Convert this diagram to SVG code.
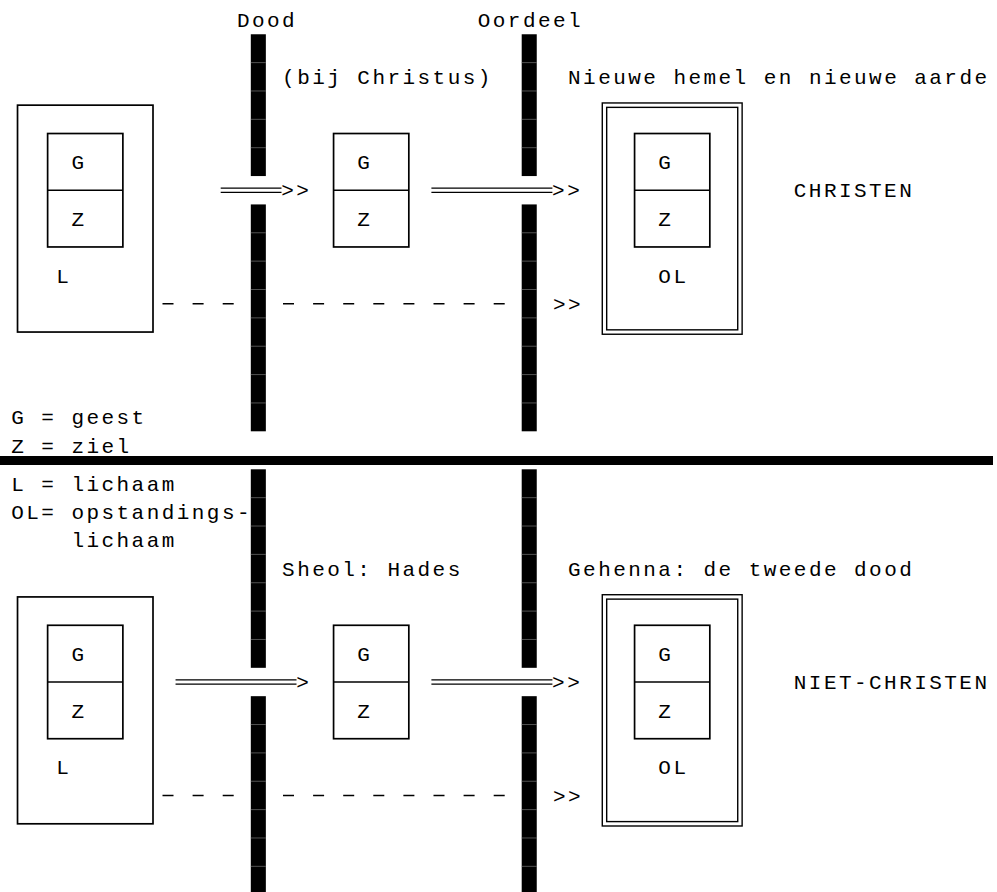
<svg xmlns="http://www.w3.org/2000/svg" width="997" height="892" viewBox="0 0 997 892">
<style>
.t{font-family:"Liberation Mono","DejaVu Sans Mono",monospace;font-size:21px;letter-spacing:2.45px;fill:#000}
.box{fill:none;stroke:#000;stroke-width:1.7}
.dbl{fill:none;stroke:#000;stroke-width:1.4}
.bar{fill:#000}
.sep{fill:none;stroke:#8a8a8a;stroke-width:0.6}
.dash{fill:none;stroke:#000;stroke-width:1.5;stroke-dasharray:11 19.1}
</style>
<rect width="997" height="892" fill="#fff"/>

<!-- barriers -->
<g id="bar-dood">
<rect class="bar" x="250.8" y="34.26" width="15.05" height="141.8"/>
<rect class="bar" x="250.8" y="204.42" width="15.05" height="226.88"/>
<rect class="bar" x="250.8" y="469.3" width="15.05" height="198.52"/>
<rect class="bar" x="250.8" y="696.18" width="15.05" height="195.82"/>
<path class="sep" d="M250.8 62.62h15.05M250.8 90.98h15.05M250.8 119.34h15.05M250.8 147.7h15.05M250.8 232.78h15.05M250.8 261.14h15.05M250.8 289.5h15.05M250.8 317.86h15.05M250.8 346.22h15.05M250.8 374.58h15.05M250.8 402.94h15.05M250.8 497.66h15.05M250.8 526.02h15.05M250.8 554.38h15.05M250.8 582.74h15.05M250.8 611.1h15.05M250.8 639.46h15.05M250.8 724.54h15.05M250.8 752.9h15.05M250.8 781.26h15.05M250.8 809.62h15.05M250.8 837.98h15.05M250.8 866.34h15.05"/>
</g>
<g id="bar-oordeel">
<rect class="bar" x="521.7" y="34.26" width="15.05" height="141.8"/>
<rect class="bar" x="521.7" y="204.42" width="15.05" height="226.88"/>
<rect class="bar" x="521.7" y="469.3" width="15.05" height="198.52"/>
<rect class="bar" x="521.7" y="696.18" width="15.05" height="195.82"/>
<path class="sep" d="M521.7 62.62h15.05M521.7 90.98h15.05M521.7 119.34h15.05M521.7 147.7h15.05M521.7 232.78h15.05M521.7 261.14h15.05M521.7 289.5h15.05M521.7 317.86h15.05M521.7 346.22h15.05M521.7 374.58h15.05M521.7 402.94h15.05M521.7 497.66h15.05M521.7 526.02h15.05M521.7 554.38h15.05M521.7 582.74h15.05M521.7 611.1h15.05M521.7 639.46h15.05M521.7 724.54h15.05M521.7 752.9h15.05M521.7 781.26h15.05M521.7 809.62h15.05M521.7 837.98h15.05M521.7 866.34h15.05"/>
</g>

<!-- divider -->
<rect id="divider" x="0" y="456" width="993" height="9" fill="#000"/>

<!-- headings -->
<g id="labels">
<text class="t" x="236.95" y="27.3">Dood</text>
<text class="t" x="477.75" y="27.3">Oordeel</text>
<text class="t" x="282.1" y="84.1">(bij Christus)</text>
<text class="t" x="568.05" y="84.1">Nieuwe hemel en nieuwe aarde</text>
<text class="t" x="793.8" y="197.4">CHRISTEN</text>
<text class="t" x="282.1" y="575.8">Sheol: Hades</text>
<text class="t" x="568.05" y="575.8">Gehenna: de tweede dood</text>
<text class="t" x="793.8" y="689.2">NIET-CHRISTEN</text>
</g>

<g id="legend">
<text class="t" x="11.2" y="424.4">G = geest</text>
<text class="t" x="11.2" y="452.8">Z = ziel</text>
<text class="t" x="11.2" y="490.7">L = lichaam</text>
<text class="t" x="11.2" y="519.1">OL= opstandings-</text>
<text class="t" x="71.4" y="547.4">lichaam</text>
</g>

<!-- top: christen -->
<g id="christen-body">
<rect class="box" x="17.525" y="105.16" width="135.475" height="226.88"/>
<rect class="box" x="47.625" y="133.52" width="75.25" height="113.44"/>
<line class="box" x1="47.625" y1="190.24" x2="122.875" y2="190.24"/>
<text class="t" x="71.4" y="169.1">G</text>
<text class="t" x="71.4" y="225.8">Z</text>
<text class="t" x="56.35" y="282.5">L</text>
</g>
<g id="christen-intermediate">
<rect class="box" x="333.575" y="133.52" width="75.25" height="113.44"/>
<line class="box" x1="333.575" y1="190.24" x2="408.825" y2="190.24"/>
<text class="t" x="357.35" y="169.1">G</text>
<text class="t" x="357.35" y="225.8">Z</text>
</g>
<g id="christen-final">
<rect class="dbl" x="602.28" y="102.96" width="139.85" height="231.28"/>
<rect class="dbl" x="606.68" y="107.36" width="131.05" height="222.48"/>
<rect class="box" x="634.575" y="133.52" width="75.25" height="113.44"/>
<line class="box" x1="634.575" y1="190.24" x2="709.825" y2="190.24"/>
<text class="t" x="658.35" y="169.1">G</text>
<text class="t" x="658.35" y="225.8">Z</text>
<text class="t" x="658.35" y="282.5">OL</text>
</g>

<!-- bottom: niet-christen -->
<g id="niet-christen-body">
<rect class="box" x="17.525" y="596.92" width="135.475" height="226.88"/>
<rect class="box" x="47.625" y="625.28" width="75.25" height="113.44"/>
<line class="box" x1="47.625" y1="682" x2="122.875" y2="682"/>
<text class="t" x="71.4" y="660.9">G</text>
<text class="t" x="71.4" y="717.6">Z</text>
<text class="t" x="56.35" y="774.3">L</text>
</g>
<g id="niet-christen-intermediate">
<rect class="box" x="333.575" y="625.28" width="75.25" height="113.44"/>
<line class="box" x1="333.575" y1="682" x2="408.825" y2="682"/>
<text class="t" x="357.35" y="660.9">G</text>
<text class="t" x="357.35" y="717.6">Z</text>
</g>
<g id="niet-christen-final">
<rect class="dbl" x="602.28" y="594.72" width="139.85" height="231.28"/>
<rect class="dbl" x="606.68" y="599.12" width="131.05" height="222.48"/>
<rect class="box" x="634.575" y="625.28" width="75.25" height="113.44"/>
<line class="box" x1="634.575" y1="682" x2="709.825" y2="682"/>
<text class="t" x="658.35" y="660.9">G</text>
<text class="t" x="658.35" y="717.6">Z</text>
<text class="t" x="658.35" y="774.3">OL</text>
</g>

<!-- connectors -->
<g id="connectors">
<path class="dbl" d="M220.7 188.14H281.5M220.7 192.34H281.5"/>
<text class="t" x="281.2" y="197.4">&gt;&gt;</text>
<path class="dbl" d="M431.4 188.14H552.4M431.4 192.34H552.4"/>
<text class="t" x="552.1" y="197.4">&gt;&gt;</text>
<path class="dash" d="M162.5 303.7H234M283 303.7H505"/>
<text class="t" x="553.0" y="310.9">&gt;&gt;</text>

<path class="dbl" d="M175.55 679.9H296.5M175.55 684.1H296.5"/>
<text class="t" x="296.25" y="689.2">&gt;</text>
<path class="dbl" d="M431.4 679.9H552.4M431.4 684.1H552.4"/>
<text class="t" x="552.1" y="689.2">&gt;&gt;</text>
<path class="dash" d="M162.5 795.4H234M283 795.4H505"/>
<text class="t" x="553.0" y="802.7">&gt;&gt;</text>
</g>
</svg>
